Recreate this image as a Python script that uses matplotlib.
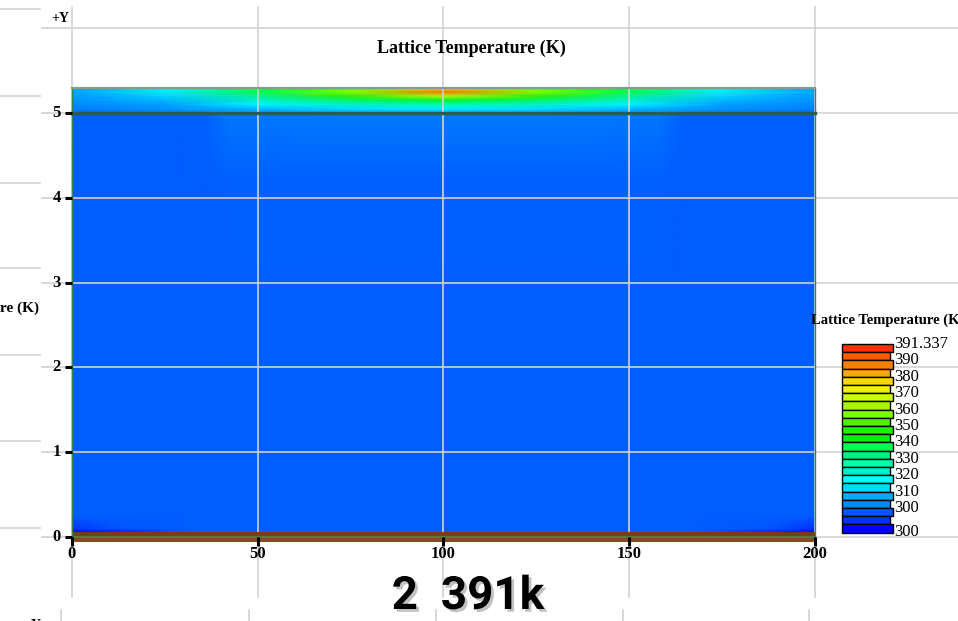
import numpy as np
import matplotlib
matplotlib.use('Agg')
import matplotlib.pyplot as plt
from matplotlib.colors import LinearSegmentedColormap, Normalize
from matplotlib.patches import Rectangle
import matplotlib.patheffects as pe

# ---------------- data ----------------
title = "Lattice Temperature (K)"
legend_title = "Lattice Temperature (K)"
caption = "2  391k"
x_ticks = [0, 50, 100, 150, 200]
y_ticks = [0, 1, 2, 3, 4, 5, 6]
y_tick_labels = ["0", "1", "2", "3", "4", "5", ""]

# legend: 23 colour boxes, top to bottom
legend_colors = ["#FF3300", "#FF5A00", "#FF8000", "#FFA800", "#FFD800", "#F2F200",
                 "#CCFF00", "#A8F500", "#80FF00", "#55EE00", "#22EE00", "#00EE22",
                 "#00FF55", "#00EE88", "#00FFAA", "#00EECC", "#00FFFF", "#00D8FF",
                 "#00AAFF", "#0088FF", "#0055FF", "#0033FF", "#0000FF"]
# level bounds bottom -> top (24 values)
level_bounds = [298.0, 299.0, 299.5, 300, 305, 310, 315, 320, 325, 330, 335, 340,
                345, 350, 355, 360, 365, 370, 375, 380, 385, 390, 390.7, 391.337]
legend_labels = ["391.337", "390", "380", "370", "360", "350", "340", "330",
                 "320", "310", "300", "300"]
legend_label_box_index = [0, 2, 4, 6, 8, 10, 12, 14, 16, 18, 20, 23]

# semiconductor body temperature samples
body_x = [0, 12, 30, 36, 42, 70, 100, 130, 158, 164, 170, 188, 200]
body_y = [0.055, 0.10, 0.25, 4.2, 4.6, 5.0]
body_T = [
    [298.2, 298.8, 299.9, 300.2, 300.2, 300.2, 300.2, 300.2, 300.2, 300.2, 300.0, 299.0, 298.2],
    [299.3, 299.8, 300.2, 300.2, 300.2, 300.2, 300.2, 300.2, 300.2, 300.2, 300.2, 299.8, 299.2],
    [300.2, 300.2, 300.2, 300.2, 300.2, 300.2, 300.2, 300.2, 300.2, 300.2, 300.2, 300.2, 300.2],
    [300.2, 300.2, 300.2, 300.2, 300.3, 300.3, 300.3, 300.3, 300.3, 300.2, 300.2, 300.2, 300.2],
    [300.2, 300.2, 300.2, 300.3, 301.0, 301.1, 301.1, 301.1, 301.0, 300.3, 300.2, 300.2, 300.2],
    [300.3, 300.3, 300.35, 300.4, 301.6, 301.7, 301.7, 301.7, 301.6, 300.4, 300.35, 300.3, 300.3],
]

# top layer temperature samples
top_x = [0, 25, 50, 75, 100, 125, 150, 175, 200]
top_y = [5.0, 5.05, 5.1, 5.15, 5.2, 5.25, 5.3]
top_T = [
    [301, 302, 305, 306, 307, 306, 305, 302, 301],
    [302, 304, 309, 313, 315, 313, 309, 304, 302],
    [303, 306, 316, 323, 327, 323, 316, 306, 303],
    [304, 309, 323, 335, 341, 335, 323, 309, 304],
    [305, 312, 331, 349, 364, 349, 331, 312, 305],
    [307, 315, 339, 358, 389, 358, 339, 315, 307],
    [306, 314, 337, 353, 374, 353, 337, 314, 306],
]

# layer geometry (data units)
x_range = [0, 200]
substrate_y = [-0.06, -0.005, 0.055]
body_top = 5.0
layer_top = 5.3

# ---------------- figure ----------------
W, H = 958, 621
fig = plt.figure(figsize=(W / 100, H / 100), dpi=100)
ax = fig.add_axes([0, 0, 1, 1])
PX0, PX1 = 72, 815   # pixel columns of x = 0 and x = 200
PY0, PY5 = 537, 113  # pixel rows of y = 0 and y = 5
sx = (PX1 - PX0) / 200.0
sy = (PY0 - PY5) / 5.0
ax.set_xlim(-PX0 / sx, (W - PX0) / sx)
ax.set_ylim(-(H - PY0) / sy, PY0 / sy)
ax.axis('off')

def px2x(p):
    return (p - PX0) / sx

def py2y(p):
    return (PY0 - p) / sy

# colormap through box centres
bounds = np.array(level_bounds)
cols_bt = legend_colors[::-1]
vmin, vmax = bounds[0], bounds[-1]
centers = (bounds[:-1] + bounds[1:]) / 2
pos = (centers - vmin) / (vmax - vmin)
stops = [(0.0, cols_bt[0])] + [(p, c) for p, c in zip(pos, cols_bt)] + [(1.0, cols_bt[-1])]
cmap = LinearSegmentedColormap.from_list("tony", stops, N=1024)
norm = Normalize(vmin, vmax)

# fields
BX, BY = np.meshgrid(body_x, body_y)
ax.pcolormesh(BX, BY, np.array(body_T), cmap=cmap, norm=norm, shading='gouraud', zorder=1)
TX, TY = np.meshgrid(top_x, top_y)
ax.pcolormesh(TX, TY, np.array(top_T), cmap=cmap, norm=norm, shading='gouraud', zorder=1)

# grid lines
gcol = "#D2D2D2"
for yv in y_ticks:
    ax.plot([px2x(42), px2x(W)], [yv, yv], color=gcol, lw=1.2, zorder=5 if yv < 6 else 0)
for xv in x_ticks:
    ax.plot([xv, xv], [py2y(7), py2y(597)], color=gcol, lw=1.2, zorder=5)
# partially visible neighbouring panels
for p in [61, 249, 436, 623, 809]:
    ax.plot([px2x(p), px2x(p)], [py2y(610), py2y(H)], color=gcol, lw=1.2, zorder=0)
for p in [9, 96, 183, 268, 355, 441, 528]:
    ax.plot([px2x(0), px2x(40)], [py2y(p), py2y(p)], color=gcol, lw=1.2, zorder=0)

# substrate strip
ax.add_patch(Rectangle((x_range[0], substrate_y[1]), x_range[1] - x_range[0],
                       substrate_y[2] - substrate_y[1], color="#7A3A1C", lw=0, zorder=5.5))
ax.add_patch(Rectangle((x_range[0], substrate_y[0]), x_range[1] - x_range[0],
                       substrate_y[1] - substrate_y[0], color="#8A4A26", lw=0, zorder=5.5))
ax.plot(x_range, [substrate_y[1]] * 2, color="#557A3A", lw=1.6, zorder=5.6)

# region outlines
ax.plot([0, 0], [substrate_y[0], layer_top], color="#3C8050", lw=1.0, zorder=5.7)
ax.plot([200, 200], [substrate_y[0], layer_top], color="#3C8050", lw=1.0, zorder=5.7)
ax.plot(x_range, [layer_top] * 2, color="#7FA08A", lw=1.6, zorder=5.7)
ax.plot(x_range, [body_top] * 2, color="#2A5E4A", lw=2.4, zorder=5.7)

# ticks
tick_font = dict(family="Liberation Serif", weight="bold", size=12)
for yv, lab in zip(y_ticks, y_tick_labels):
    if lab == "":
        continue
    ax.plot([px2x(65), 0], [yv, yv], color="black", lw=2.2, zorder=6, solid_capstyle='butt')
    ax.text(px2x(61), yv, lab, ha='right', va='center', zorder=6, **tick_font)
for xv in x_ticks:
    ax.plot([xv, xv], [0, py2y(546)], color="black", lw=2.2, zorder=6, solid_capstyle='butt')
    ax.text(xv, py2y(546), str(xv), ha='center', va='top', zorder=6, **tick_font)

# titles / labels
ax.text(px2x(471), py2y(48), title, ha='center', va='center',
        family="Liberation Serif", weight="bold", size=13, zorder=6)
ax.text(px2x(60), py2y(18), "+Y", ha='center', va='center',
        family="Liberation Serif", weight="bold", size=10, zorder=6)
ax.text(px2x(39), py2y(308), legend_title, ha='right', va='center',
        family="Liberation Serif", weight="bold", size=11, zorder=6)
ax.text(px2x(32), py2y(619), "+Y", ha='center', va='top',
        family="Liberation Serif", weight="bold", size=10, zorder=6)

# caption
ax.text(px2x(468), py2y(596), caption, ha='center', va='center',
        family="Roboto", weight="bold", size=33, zorder=7,
        path_effects=[pe.withSimplePatchShadow(offset=(2, -2), shadow_rgbFace='#999999', alpha=0.6)])

# legend
ax.text(px2x(811), py2y(320), legend_title, ha='left', va='center',
        family="Liberation Serif", weight="bold", size=10.5, zorder=6)
lx0 = 842
ltop, lbot = 344, 532.5
bh = (lbot - ltop) / len(legend_colors)
for i, c in enumerate(legend_colors):
    wpx = 51 if i % 2 == 0 else 48
    y_top = ltop + i * bh
    ax.add_patch(Rectangle((px2x(lx0), py2y(y_top + bh)), wpx / sx, bh / sy,
                           facecolor=c, edgecolor="black", lw=1.0, zorder=6))
for lab, idx in zip(legend_labels, legend_label_box_index):
    ax.text(px2x(894), py2y(ltop + idx * bh), lab, ha='left', va='center',
            family="Liberation Serif", size=12, zorder=7)

fig.savefig("out.png", dpi=100)
